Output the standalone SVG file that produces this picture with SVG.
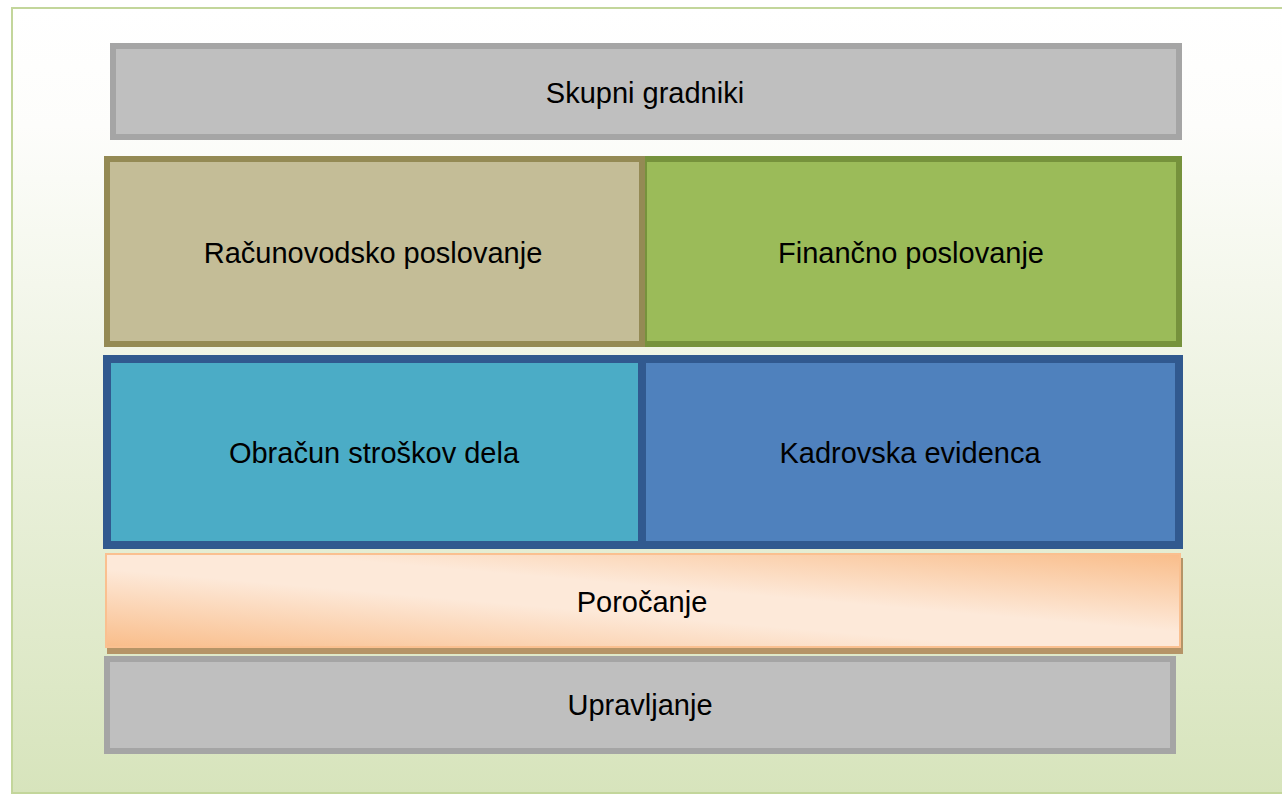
<svg xmlns="http://www.w3.org/2000/svg" width="1282" height="794" viewBox="0 0 1282 794">
<defs>
<linearGradient id="bg" x1="0" y1="0" x2="0" y2="1">
<stop offset="0" stop-color="#ffffff"/>
<stop offset="0.15" stop-color="#fdfdfb"/>
<stop offset="1" stop-color="#d7e4bc"/>
</linearGradient>
<linearGradient id="orange" x1="0" y1="1" x2="1" y2="0">
<stop offset="0" stop-color="#f9bd8a"/>
<stop offset="0.42" stop-color="#fde9d9"/>
<stop offset="0.58" stop-color="#fde9d9"/>
<stop offset="1" stop-color="#f9bd8a"/>
</linearGradient>
</defs>
<style>
text{font-family:"Liberation Sans",Arial,sans-serif;font-size:29px;fill:#000;text-anchor:middle}
.gray{fill:#bfbfbf;stroke:#a5a5a5;stroke-width:6}
</style>
<rect x="0" y="0" width="1282" height="794" fill="#ffffff"/>
<rect x="12" y="8" width="1290" height="785" fill="url(#bg)" stroke="#c3d69b" stroke-width="2"/>
<g id="skupni">
<rect class="gray" x="113" y="46" width="1066" height="91"/>
<text x="645" y="103">Skupni gradniki</text>
</g>
<g id="financno">
<rect x="644" y="159" width="535" height="185" fill="#9bbb59" stroke="#76923c" stroke-width="6"/>
<text x="911" y="263">Finančno poslovanje</text>
</g>
<g id="racunovodsko">
<rect x="107" y="159" width="535" height="185" fill="#c4bd97" stroke="#948a54" stroke-width="6"/>
<text x="373" y="263">Računovodsko poslovanje</text>
</g>
<g id="kadrovska">
<rect x="641" y="359" width="538" height="186" fill="#4f81bd" stroke="#31598f" stroke-width="8"/>
<text x="910" y="463">Kadrovska evidenca</text>
</g>
<g id="obracun">
<rect x="107" y="359" width="535" height="186" fill="#4bacc6" stroke="#31598f" stroke-width="8"/>
<text x="374" y="463">Obračun stroškov dela</text>
</g>
<g id="porocanje">
<rect x="107" y="558" width="1076" height="96" fill="#b59467"/>
<rect x="106" y="554" width="1074" height="93" fill="url(#orange)" stroke="#fac090" stroke-width="2"/>
<text x="642" y="612">Poročanje</text>
</g>
<g id="upravljanje">
<rect class="gray" x="107" y="659" width="1066" height="92"/>
<text x="640" y="715">Upravljanje</text>
</g>
<g id="connectors"></g>
</svg>
